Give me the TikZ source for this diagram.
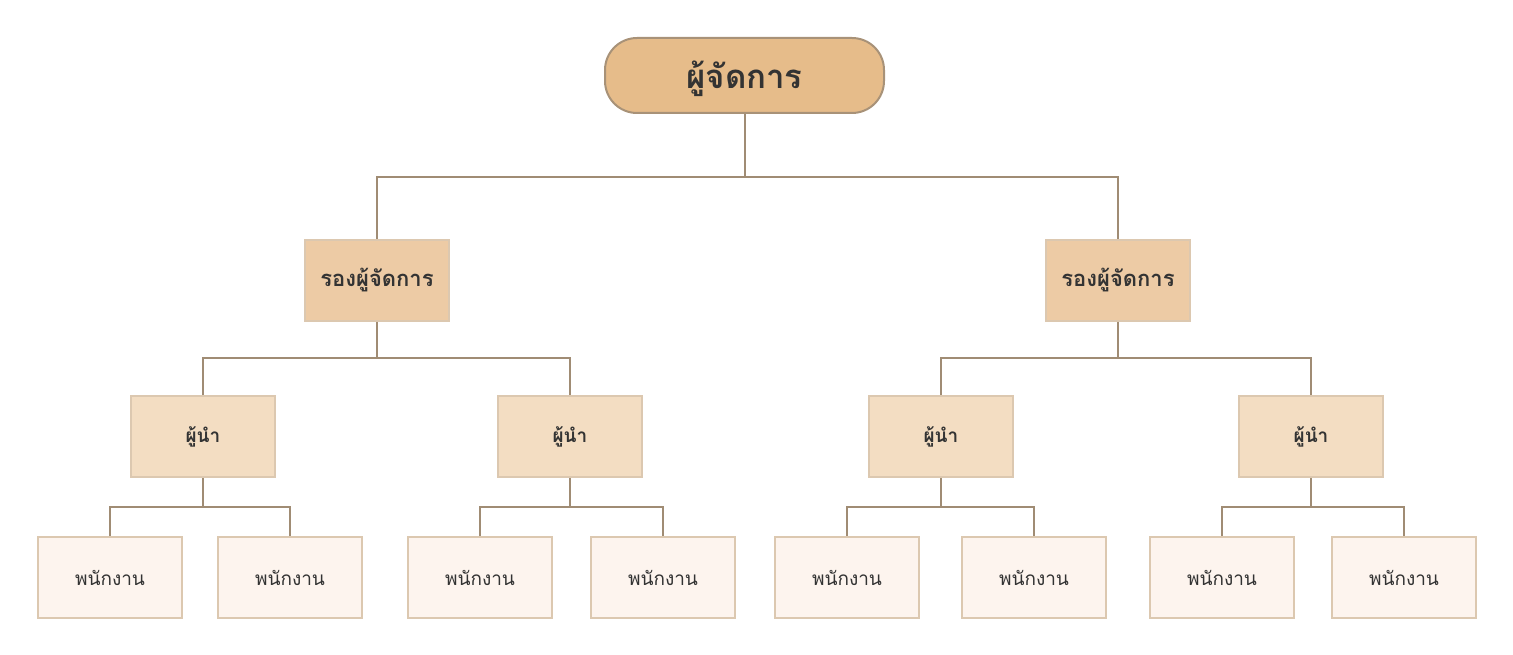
\documentclass[tikz,border=0pt]{standalone}
\usepackage{fontspec}
\newfontfamily\thaifont[Script=Thai]{Loma}
\definecolor{linec}{HTML}{A08C74}
\definecolor{topfill}{HTML}{E6BC8A}
\definecolor{topdraw}{HTML}{A89278}
\definecolor{depfill}{HTML}{EDCBA5}
\definecolor{leadfill}{HTML}{F3DDC2}
\definecolor{stafffill}{HTML}{FDF4EE}
\definecolor{boxdraw}{HTML}{DCC8B0}
\definecolor{txt}{HTML}{333333}
\begin{document}
\begin{tikzpicture}[x=1pt,y=1pt,
    every node/.style={text=txt,font=\thaifont},
    boss/.style={draw=topdraw,line width=2pt,fill=topfill,rounded corners=32pt,minimum width=279pt,minimum height=75pt,text depth=2pt,font=\thaifont\bfseries\fontsize{33}{36}\selectfont},
    deputy/.style={draw=boxdraw,line width=1.8pt,fill=depfill,minimum width=144pt,minimum height=81pt,font=\thaifont\bfseries\fontsize{22}{26}\selectfont},
    lead/.style={draw=boxdraw,line width=1.8pt,fill=leadfill,minimum width=144pt,minimum height=81pt,font=\thaifont\bfseries\fontsize{19}{22}\selectfont},
    staff/.style={draw=boxdraw,line width=1.8pt,fill=stafffill,minimum width=144pt,minimum height=81pt,font=\thaifont\fontsize{19}{22}\selectfont},
    link/.style={draw=linec,line width=2pt}]
        \useasboundingbox (0,0) rectangle (1513,-655);
        % top
        \node[boss] (mgr) at (744.5,-75.5) {ผู้จัดการ};
        % deputies
        \node[deputy] (depA) at (377,-280.5) {รองผู้จัดการ};
        \node[deputy] (depB) at (1118,-280.5) {รองผู้จัดการ};
        % leads
        \node[lead] (leadA) at (203,-436.5) {ผู้นำ};
        \node[lead] (leadB) at (570,-436.5) {ผู้นำ};
        \node[lead] (leadC) at (941,-436.5) {ผู้นำ};
        \node[lead] (leadD) at (1311,-436.5) {ผู้นำ};
        % staff
        \foreach \n/\x in {1/110,2/290,3/480,4/663,5/847,6/1034,7/1222,8/1404}
            \node[staff] (staff\n) at (\x,-577.5) {พนักงาน};
        % connectors
        \draw[link] (mgr.south) -- (mgr.south |- 0,-177) -| (depA.north);
        \draw[link] (mgr.south |- 0,-177) -| (depB.north);
        \draw[link] (depA.south) -- (depA.south |- 0,-358) -| (leadA.north);
        \draw[link] (depA.south |- 0,-358) -| (leadB.north);
        \draw[link] (depB.south) -- (depB.south |- 0,-358) -| (leadC.north);
        \draw[link] (depB.south |- 0,-358) -| (leadD.north);
        \draw[link] (leadA.south) -- (leadA.south |- 0,-507) -| (staff1.north);
        \draw[link] (leadA.south |- 0,-507) -| (staff2.north);
        \draw[link] (leadB.south) -- (leadB.south |- 0,-507) -| (staff3.north);
        \draw[link] (leadB.south |- 0,-507) -| (staff4.north);
        \draw[link] (leadC.south) -- (leadC.south |- 0,-507) -| (staff5.north);
        \draw[link] (leadC.south |- 0,-507) -| (staff6.north);
        \draw[link] (leadD.south) -- (leadD.south |- 0,-507) -| (staff7.north);
        \draw[link] (leadD.south |- 0,-507) -| (staff8.north);
    \end{tikzpicture}
\end{document}
